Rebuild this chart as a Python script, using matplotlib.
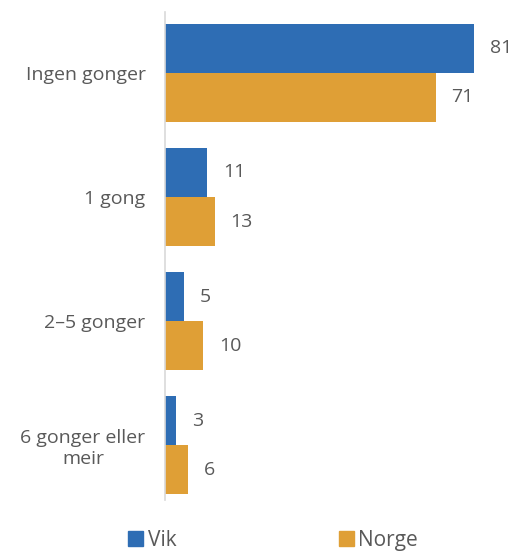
import matplotlib
matplotlib.use("Agg")
import matplotlib.pyplot as plt
import numpy as np

categories = ["Ingen gonger", "1 gong", "2–5 gonger", "6 gonger eller\nmeir"]
vik = [81, 11, 5, 3]
norge = [71, 13, 10, 6]
series_names = ["Vik", "Norge"]
colors = ["#2E6DB4", "#DF9F36"]

plt.rcParams['font.family'] = ['Open Sans', 'DejaVu Sans']
text_color = "#595959"

fig = plt.figure(figsize=(5.16, 5.54), dpi=100)
ax = fig.add_axes([165/516, 1-500/554, (508-165)/516, (500-12)/554])

y = np.arange(len(categories))
h = 0.395
ax.barh(y - h/2, vik, height=h, color=colors[0], label=series_names[0])
ax.barh(y + h/2, norge, height=h, color=colors[1], label=series_names[1])

for i in range(len(categories)):
    ax.text(vik[i] + 4.2, y[i] - h/2, str(vik[i]), va='center', ha='left', fontsize=14, color=text_color)
    ax.text(norge[i] + 4.2, y[i] + h/2, str(norge[i]), va='center', ha='left', fontsize=14, color=text_color)

ax.set_xlim(0, 90)
ax.set_ylim(3.44, -0.49)
ax.set_yticks(y)
ax.set_yticklabels(categories, fontsize=14, color=text_color, ha='right', multialignment='center')
ax.tick_params(axis='y', length=0, pad=14)
ax.set_xticks([])
for s in ['top', 'right', 'bottom']:
    ax.spines[s].set_visible(False)
ax.spines['left'].set_color('#D9D9D9')
ax.spines['left'].set_linewidth(1.2)

handles = [plt.Rectangle((0, 0), 1, 1, color=c) for c in colors]
fig.legend(handles, series_names, loc='lower left', bbox_to_anchor=(109/516, -0.028),
           ncol=2, frameon=False, fontsize=15, handlelength=0.75, handleheight=0.75,
           handletextpad=0.2, columnspacing=7.8, labelcolor=text_color)

fig.savefig("out.png", dpi=100)
